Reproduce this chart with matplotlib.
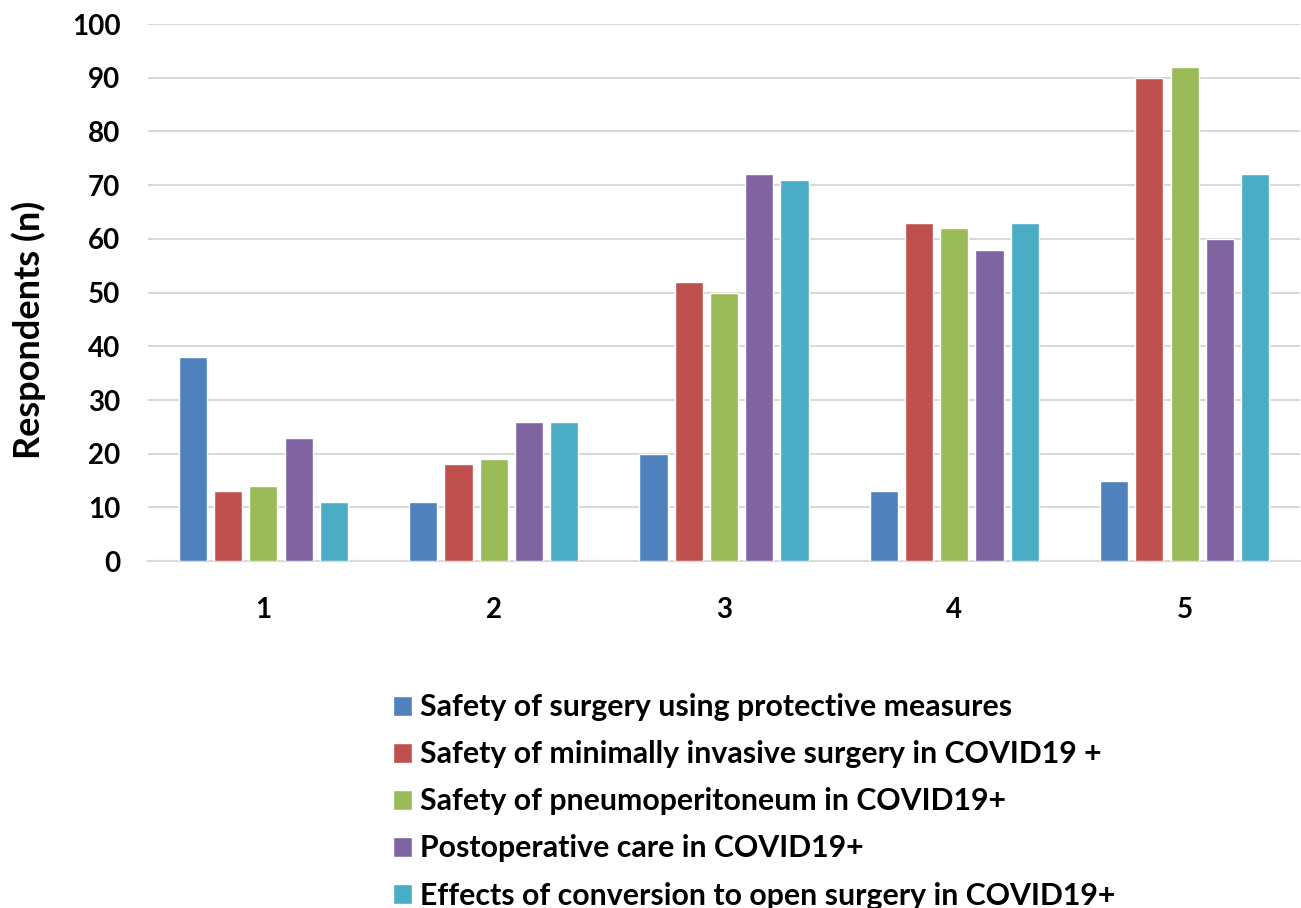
import matplotlib
matplotlib.use("Agg")
import matplotlib.pyplot as plt
import numpy as np

categories = ["1", "2", "3", "4", "5"]
series_names = [
    "Safety of surgery using protective measures",
    "Safety of minimally invasive surgery in COVID19 +",
    "Safety of pneumoperitoneum in COVID19+",
    "Postoperative care in COVID19+",
    "Effects of conversion to open surgery in COVID19+",
]
protective = [38, 11, 20, 13, 15]
minimally_invasive = [13, 18, 52, 63, 90]
pneumoperitoneum = [14, 19, 50, 62, 92]
postoperative = [23, 26, 72, 58, 60]
conversion = [11, 26, 71, 63, 72]
colors = ["#4F81BD", "#C0504D", "#9BBB59", "#8064A2", "#4BACC6"]


def plot():
    plt.rcParams["font.family"] = ["Lato", "DejaVu Sans"]
    plt.rcParams["font.weight"] = "bold"

    fig = plt.figure(figsize=(13.01, 9.08), dpi=100)
    ax = fig.add_axes([0.114, 0.382, 0.885, 0.5915])

    all_series = [protective, minimally_invasive, pneumoperitoneum,
                  postoperative, conversion]
    x = np.arange(len(categories))
    width = 0.122
    pitch = 0.153
    for i, (name, vals) in enumerate(zip(series_names, all_series)):
        offset = (i - 2) * pitch
        ax.bar(x + offset, vals, width, color=colors[i], label=name,
               edgecolor="white", linewidth=1.0, zorder=3)

    ax.set_xlim(-0.5, len(categories) - 0.5)
    ax.set_ylim(0, 100)
    ax.set_yticks(range(0, 101, 10))
    ax.set_xticks(x)
    ax.set_xticklabels(categories)
    ax.tick_params(axis="both", length=0, labelsize=20)
    ax.tick_params(axis="x", pad=26)
    ax.tick_params(axis="y", pad=20)
    ax.grid(axis="y", color="#D9D9D9", linewidth=1.5, zorder=0)

    for side in ["top", "right", "left"]:
        ax.spines[side].set_visible(False)
    ax.spines["bottom"].set_color("#D9D9D9")
    ax.spines["bottom"].set_linewidth(1.5)

    ax.set_ylabel("Respondents (n)", fontsize=26, fontweight="bold",
                  labelpad=19, y=0.43)

    handles, labels = ax.get_legend_handles_labels()
    fig.legend(handles, labels, loc="upper left",
               bbox_to_anchor=(0.281, 0.2665), frameon=False,
               fontsize=21.8, handlelength=0.63, handleheight=0.63,
               handletextpad=0.27, labelspacing=0.63)

    fig.savefig("out.png", dpi=100)


if __name__ == "__main__":
    plot()
